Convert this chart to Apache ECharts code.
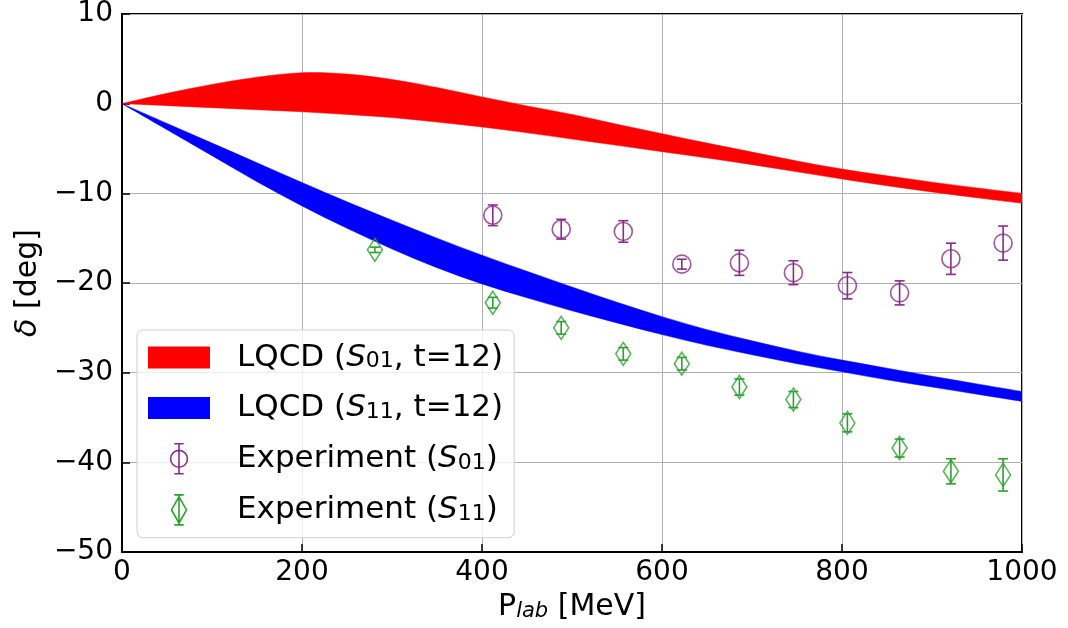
<!DOCTYPE html>
<html>
<head>
<meta charset="utf-8">
<script src="https://cdn.jsdelivr.net/npm/echarts@6/dist/echarts.min.js"></script>
<style>html,body{margin:0;padding:0;background:#fff}#c{width:1068px;height:628px}</style>
</head>
<body>
<div id="c"></div>
<script>
// ---- data ----
const xBand = [0,50,100,150,200,250,300,350,400,450,500,550,600,650,700,750,800,850,900,950,1000];
const s01Upper = [0,1.15,2.15,2.95,3.45,3.3,2.7,1.8,0.75,-0.25,-1.2,-2.3,-3.35,-4.4,-5.4,-6.4,-7.3,-8.05,-8.75,-9.4,-10.0];
const s01Lower = [0,-0.22,-0.45,-0.67,-0.9,-1.2,-1.55,-2.05,-2.6,-3.25,-3.95,-4.65,-5.35,-6.05,-6.8,-7.6,-8.4,-9.15,-9.85,-10.5,-11.1];
const s11Upper = [0,-2.2,-4.4,-6.6,-8.8,-10.95,-13.0,-15.0,-16.9,-18.7,-20.45,-22.15,-23.75,-25.2,-26.45,-27.6,-28.6,-29.5,-30.4,-31.25,-32.1];
const s11Lower = [0,-2.9,-5.8,-8.7,-11.4,-13.9,-16.2,-18.3,-20.1,-21.65,-23.1,-24.45,-25.75,-26.95,-28.0,-29.0,-29.9,-30.8,-31.6,-32.4,-33.2];

const expS01X = [412,488,557,622,686,746,806,864,921,979];
const expS01Y = [-12.45,-14.0,-14.25,-17.9,-17.75,-18.85,-20.3,-21.1,-17.3,-15.55];
const expS01Err = [1.15,1.1,1.2,0.55,1.4,1.33,1.47,1.34,1.74,1.9];

const expS11X = [281,412,488,557,622,686,746,806,864,921,979];
const expS11Y = [-16.3,-22.2,-25.0,-27.9,-29.0,-31.6,-33.0,-35.6,-38.4,-41.0,-41.4];
const expS11Err = [0.3,0.6,0.7,0.7,0.7,0.9,0.9,1.0,1.0,1.4,1.8];

const xTicks = {min:0, max:1000, interval:200};
const yTicks = {min:-50, max:10, interval:10};

// ---- styles ----
const FONT = 'DejaVu Sans';
const PURPLE = '#8c2a8c';
const GREEN = '#2ca02c';

const pairs = (xs, ys) => xs.map((x, i) => [x, ys[i]]);
const triples = (xs, ys, es) => xs.map((x, i) => [x, ys[i], es[i]]);

// smooth path (Catmull-Rom -> cubic bezier) through pixel points
function smoothSeg(pts, start) {
  let d = start ? 'M' + pts[0][0] + ',' + pts[0][1] : 'L' + pts[0][0] + ',' + pts[0][1];
  for (let i = 0; i < pts.length - 1; i++) {
    const p0 = pts[Math.max(i - 1, 0)], p1 = pts[i], p2 = pts[i + 1], p3 = pts[Math.min(i + 2, pts.length - 1)];
    const c1 = [p1[0] + (p2[0] - p0[0]) / 6, p1[1] + (p2[1] - p0[1]) / 6];
    const c2 = [p2[0] - (p3[0] - p1[0]) / 6, p2[1] - (p3[1] - p1[1]) / 6];
    d += 'C' + c1[0] + ',' + c1[1] + ',' + c2[0] + ',' + c2[1] + ',' + p2[0] + ',' + p2[1];
  }
  return d;
}

function bandRender(xs, lo, hi, color) {
  return function (params, api) {
    if (params.dataIndex !== 0) return null;
    const up = xs.map((x, i) => api.coord([x, hi[i]]));
    const dn = xs.map((x, i) => api.coord([x, lo[i]])).reverse();
    const d = smoothSeg(up, true) + smoothSeg(dn, false) + 'Z';
    return {type: 'path', shape: {pathData: d}, style: {fill: color, stroke: color, lineWidth: 0.5}};
  };
}

function errRender(color) {
  return function (params, api) {
    const x = api.value(0), y = api.value(1), e = api.value(2);
    const top = api.coord([x, y + e]);
    const bot = api.coord([x, y - e]);
    const hw = 5;
    const st = {stroke: color, lineWidth: 1.6};
    return {
      type: 'group',
      children: [
        {type: 'line', shape: {x1: top[0], y1: top[1], x2: bot[0], y2: bot[1]}, style: st},
        {type: 'line', shape: {x1: top[0]-hw, y1: top[1], x2: top[0]+hw, y2: top[1]}, style: st},
        {type: 'line', shape: {x1: bot[0]-hw, y1: bot[1], x2: bot[0]+hw, y2: bot[1]}, style: st}
      ]
    };
  };
}

const minus = v => (v < 0 ? '\u2212' + Math.abs(v) : '' + v);

const rich = {
  t0: {fontFamily: FONT, fontSize: 31, lineHeight: 30, color: '#000', padding: [0,0,0,22]},
  t: {fontFamily: FONT, fontSize: 31, lineHeight: 30, color: '#000'},
  i: {fontFamily: FONT, fontSize: 31, lineHeight: 30, color: '#000', fontStyle: 'italic'},
  s: {fontFamily: FONT, fontSize: 22, lineHeight: 17, color: '#000', verticalAlign: 'bottom'}
};

const legendText = {
  'LQCD S01': '{t0|LQCD (}{i|S}{s|01}{t|, t=12)}',
  'LQCD S11': '{t0|LQCD (}{i|S}{s|11}{t|, t=12)}',
  'Exp S01': '{t0|Experiment (}{i|S}{s|01}{t|)}',
  'Exp S11': '{t0|Experiment (}{i|S}{s|11}{t|)}'
};

const chart = echarts.init(document.getElementById('c'), null, {renderer: 'canvas'});
chart.setOption({
  animation: false,
  backgroundColor: '#fff',
  grid: {left: 122, right: 46, top: 13, bottom: 76, show: true, borderColor: '#000', borderWidth: 2, backgroundColor: 'transparent'},
  xAxis: {
    type: 'value', min: xTicks.min, max: xTicks.max, interval: xTicks.interval,
    axisLine: {show: true, onZero: false, lineStyle: {color: '#000', width: 2}},
    axisTick: {show: true, inside: true, length: 8, lineStyle: {color: '#000', width: 1.5}},
    axisLabel: {color: '#000', fontFamily: FONT, fontSize: 28, margin: 7, showMinLabel: true, showMaxLabel: true, formatter: v => '' + v},
    splitLine: {show: true, lineStyle: {color: '#b0b0b0', width: 1}},
    name: '{t|P}{s|lab}{t| [MeV]}',
    nameLocation: 'middle', nameGap: 36,
    nameTextStyle: {rich: {
      t: {fontFamily: FONT, fontSize: 30, lineHeight: 30, color: '#000'},
      s: {fontFamily: FONT, fontSize: 21, lineHeight: 17, color: '#000', fontStyle: 'italic', verticalAlign: 'bottom'}
    }}
  },
  yAxis: {
    type: 'value', min: yTicks.min, max: yTicks.max, interval: yTicks.interval,
    axisLine: {show: true, onZero: false, lineStyle: {color: '#000', width: 2}},
    axisTick: {show: true, inside: true, length: 8, lineStyle: {color: '#000', width: 1.5}},
    axisLabel: {color: '#000', fontFamily: FONT, fontSize: 28, margin: 9, formatter: minus, showMinLabel: true, showMaxLabel: true},
    splitLine: {show: true, lineStyle: {color: '#b0b0b0', width: 1}},
    name: '{i|δ}{t| [deg]}',
    nameLocation: 'middle', nameGap: 78, nameRotate: 90,
    nameTextStyle: {rich: {
      t: {fontFamily: FONT, fontSize: 30, lineHeight: 30, color: '#000'},
      i: {fontFamily: FONT, fontSize: 30, lineHeight: 30, color: '#000', fontStyle: 'italic'}
    }}
  },
  legend: {
    orient: 'vertical', left: 137, top: 330,
    padding: [12, 11, 12, 11],
    itemWidth: 62, itemHeight: 30, itemGap: 19.5,
    backgroundColor: 'rgba(255,255,255,0.8)', borderColor: '#d0d0d0', borderWidth: 1, borderRadius: 6,
    selectedMode: false,
    formatter: n => legendText[n],
    textStyle: {fontFamily: FONT, fontSize: 31, color: '#000', rich: rich},
    data: [
      {name: 'LQCD S01', icon: 'path://M0,0H62V22H0Z', itemStyle: {color: '#ff0000', borderWidth: 0}},
      {name: 'LQCD S11', icon: 'path://M0,0H62V22H0Z', itemStyle: {color: '#0000ff', borderWidth: 0}},
      {name: 'Exp S01', icon: 'path://M10,0V32M5,0H15M5,32H15M19,16A9,9 0 1 1 1,16A9,9 0 1 1 19,16Z', itemStyle: {color: 'rgba(0,0,0,0)', borderColor: PURPLE, borderWidth: 1.6}},
      {name: 'Exp S11', icon: 'path://M8,0V32M3,0H13M3,32H13M8,2L16,16L8,30L0,16Z', itemStyle: {color: 'rgba(0,0,0,0)', borderColor: GREEN, borderWidth: 1.6}}
    ]
  },
  series: [
    {name: 'LQCD S01', type: 'custom', silent: true, clip: true, itemStyle: {color: '#ff0000'},
     renderItem: bandRender(xBand, s01Lower, s01Upper, '#ff0000'),
     data: xBand.map((x, i) => [x, s01Lower[i], s01Upper[i]]), encode: {x: 0, y: [1, 2]}, z: 2},
    {name: 'LQCD S11', type: 'custom', silent: true, clip: true, itemStyle: {color: '#0000ff'},
     renderItem: bandRender(xBand, s11Lower, s11Upper, '#0000ff'),
     data: xBand.map((x, i) => [x, s11Lower[i], s11Upper[i]]), encode: {x: 0, y: [1, 2]}, z: 2},
    {name: 'Exp S01', type: 'custom', silent: true, renderItem: errRender(PURPLE), itemStyle: {color: PURPLE},
     data: triples(expS01X, expS01Y, expS01Err), encode: {x: 0, y: 1}, z: 3},
    {name: 'Exp S01', type: 'scatter', silent: true, symbol: 'circle', symbolSize: 18,
     itemStyle: {color: 'rgba(0,0,0,0)', borderColor: PURPLE, borderWidth: 1.6},
     data: pairs(expS01X, expS01Y), z: 4},
    {name: 'Exp S11', type: 'custom', silent: true, renderItem: errRender(GREEN), itemStyle: {color: GREEN},
     data: triples(expS11X, expS11Y, expS11Err), encode: {x: 0, y: 1}, z: 3},
    {name: 'Exp S11', type: 'scatter', silent: true, symbol: 'diamond', symbolSize: [15, 23],
     itemStyle: {color: 'rgba(0,0,0,0)', borderColor: GREEN, borderWidth: 1.6},
     data: pairs(expS11X, expS11Y), z: 4}
  ]
});
</script>
</body>
</html>
